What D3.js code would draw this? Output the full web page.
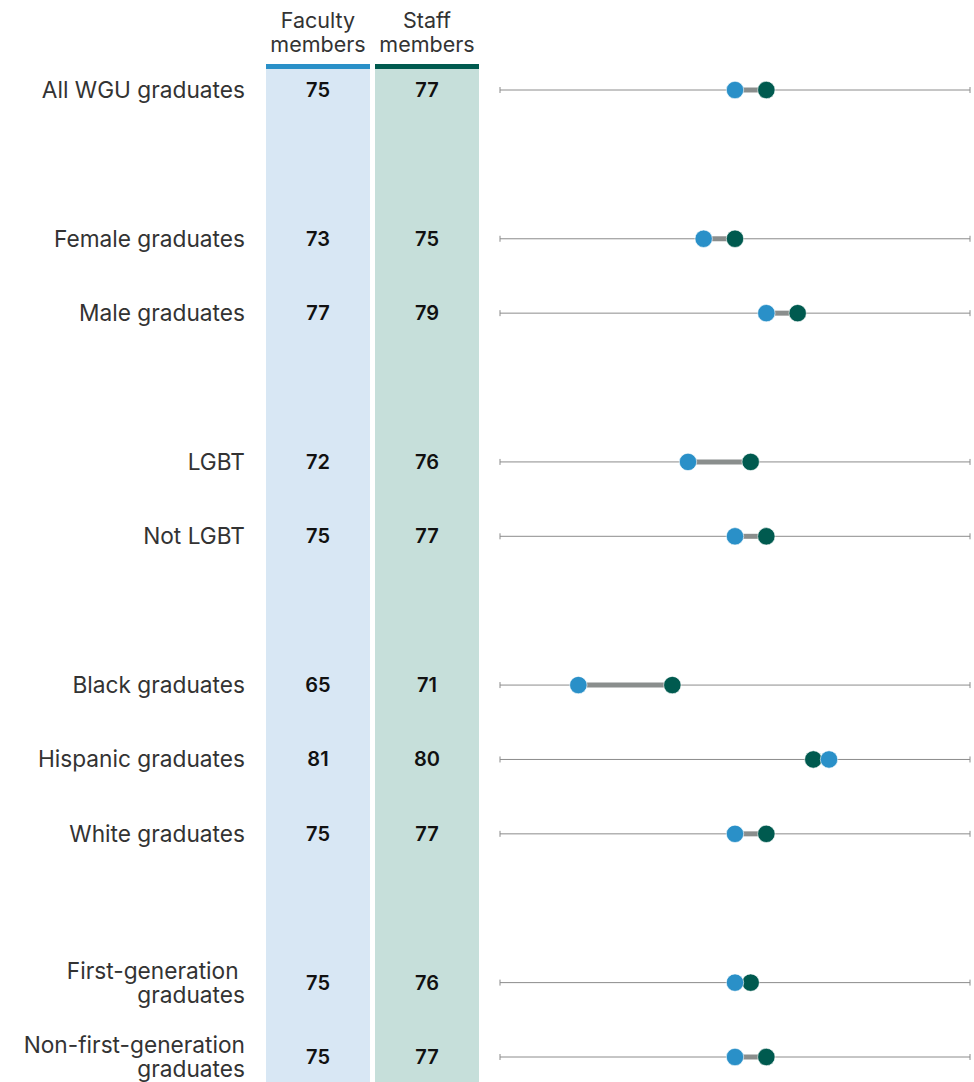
<!DOCTYPE html>
<html><head><meta charset="utf-8">
<script src="https://cdn.jsdelivr.net/npm/d3@7"></script>
<style>body{margin:0;background:#fff;} svg{display:block;}</style>
</head><body>
<script>
const categories = [["All WGU graduates"],["Female graduates"],["Male graduates"],["LGBT"],["Not LGBT"],["Black graduates"],["Hispanic graduates"],["White graduates"],["First-generation\u00a0","graduates"],["Non-first-generation","graduates"]];
const slots = [0,2,3,5,6,8,9,10,12,13];
const faculty = [75,73,77,72,75,65,81,75,75,75];
const staff = [77,75,79,76,77,71,80,77,76,77];
const headers = [["Faculty","members"],["Staff","members"]];

const W=974,H=1082;
const svg=d3.select("body").append("svg").attr("width",W).attr("height",H);
const font="Inter, 'Noto Sans', sans-serif";
const y=d3.scaleLinear().domain([0,13]).range([90,1057]);
const x=d3.scaleLinear().domain([60,90]).range([500,970]);
const cols=[{x0:266,x1:370,bg:"#d8e7f4",top:"#2a90c8"},{x0:375,x1:479,bg:"#c6dfda",top:"#005a4f"}];
const blue="#2a90c8", green="#005a4f";

cols.forEach((c,i)=>{
  svg.append("rect").attr("x",c.x0).attr("y",64).attr("width",c.x1-c.x0).attr("height",H-64).attr("fill",c.bg);
  svg.append("rect").attr("x",c.x0).attr("y",64).attr("width",c.x1-c.x0).attr("height",5).attr("fill",c.top);
  const t=svg.append("text").attr("x",(c.x0+c.x1)/2).attr("text-anchor","middle").attr("font-family",font).attr("font-size",21.5).attr("fill","#333");
  headers[i].forEach((s,j)=>t.append("tspan").attr("x",(c.x0+c.x1)/2).attr("y",28+j*24).text(s));
});

const g=svg.selectAll("g.row").data(categories.map((c,i)=>({c,i}))).enter().append("g");
g.each(function(d){
  const sel=d3.select(this); const yy=y(slots[d.i]);
  const lines=d.c; const lh=24;
  const t=sel.append("text").attr("text-anchor","end").attr("font-family",font).attr("font-size",22.7).attr("fill","#333");
  lines.forEach((s,j)=>t.append("tspan").attr("x",245).attr("y",yy+8+(j-(lines.length-1)/2)*lh).text(s));
  sel.append("text").attr("x",318).attr("y",yy+7).attr("text-anchor","middle").attr("font-family",font).attr("font-size",20).attr("font-weight",600).attr("fill","#111").text(faculty[d.i]);
  sel.append("text").attr("x",427).attr("y",yy+7).attr("text-anchor","middle").attr("font-family",font).attr("font-size",20).attr("font-weight",600).attr("fill","#111").text(staff[d.i]);
  sel.append("line").attr("x1",x(60)).attr("x2",x(90)).attr("y1",yy).attr("y2",yy).attr("stroke","#8c8c8c").attr("stroke-width",1);
  [60,90].forEach(v=>sel.append("line").attr("x1",x(v)).attr("x2",x(v)).attr("y1",yy-3).attr("y2",yy+3).attr("stroke","#8c8c8c").attr("stroke-width",1));
  sel.append("line").attr("x1",x(faculty[d.i])).attr("x2",x(staff[d.i])).attr("y1",yy).attr("y2",yy).attr("stroke","#8a8e8d").attr("stroke-width",5);
  sel.append("circle").attr("cx",x(staff[d.i])).attr("cy",yy).attr("r",8.7).attr("fill",green).attr("stroke","#fff").attr("stroke-width",0.6);
  sel.append("circle").attr("cx",x(faculty[d.i])).attr("cy",yy).attr("r",8.7).attr("fill",blue).attr("stroke","#fff").attr("stroke-width",0.6);
});
</script>
</body></html>
